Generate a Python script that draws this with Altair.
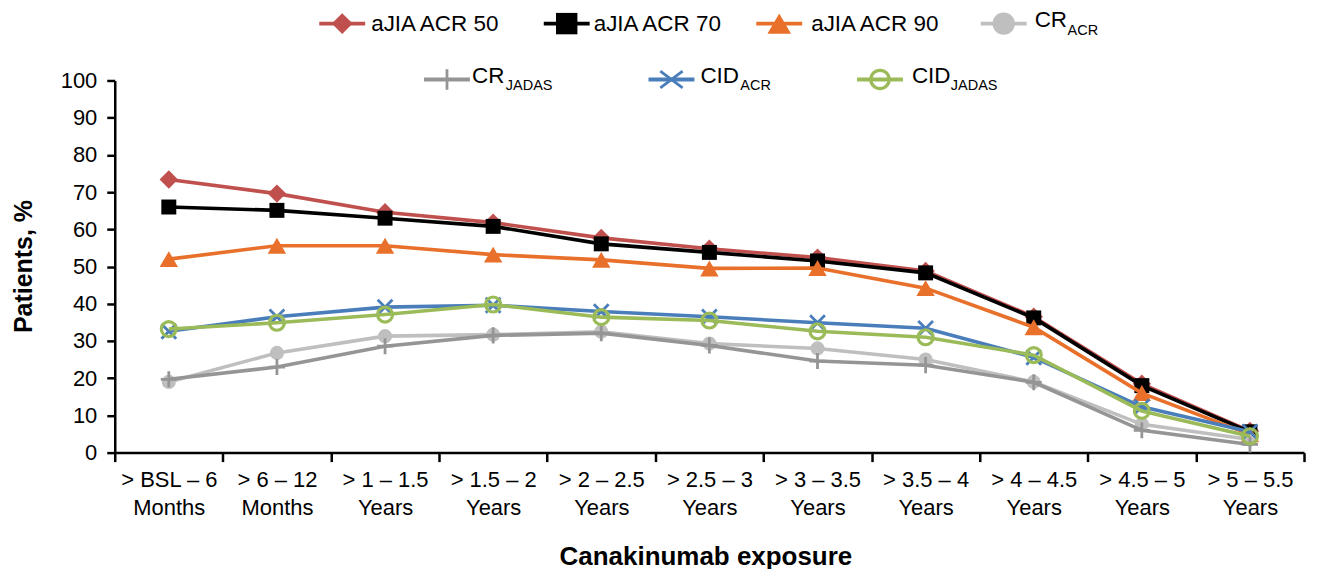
import altair as alt
import pandas as pd

# ---------------- data ----------------
categories = [
    "> BSL – 6\nMonths", "> 6 – 12\nMonths", "> 1 – 1.5\nYears", "> 1.5 – 2\nYears",
    "> 2 – 2.5\nYears", "> 2.5 – 3\nYears", "> 3 – 3.5\nYears", "> 3.5 – 4\nYears",
    "> 4 – 4.5\nYears", "> 4.5 – 5\nYears", "> 5 – 5.5\nYears",
]
acr50 = [73.4, 69.6, 64.6, 61.8, 57.7, 54.8, 52.4, 48.8, 36.5, 18.5, 5.8]
acr70 = [66.0, 65.1, 63.0, 60.8, 56.1, 53.8, 51.5, 48.3, 36.2, 18.0, 5.6]
acr90 = [52.0, 55.6, 55.6, 53.2, 51.8, 49.5, 49.6, 44.2, 33.7, 16.0, 4.9]
cr_acr = [19.0, 26.8, 31.3, 31.7, 32.5, 29.3, 28.0, 25.0, 19.0, 7.6, 3.5]
cr_jadas = [19.7, 23.0, 28.6, 31.5, 32.1, 28.8, 24.6, 23.5, 18.9, 6.0, 2.2]
cid_acr = [32.6, 36.5, 39.1, 39.6, 37.9, 36.5, 34.9, 33.4, 25.6, 12.3, 5.6]
cid_jadas = [33.2, 34.9, 37.1, 39.8, 36.4, 35.5, 32.6, 31.0, 26.2, 11.2, 4.4]

series_names = ["aJIA ACR 50", "aJIA ACR 70", "aJIA ACR 90", "CR", "CR", "CID", "CID"]
series_subs = ["", "", "", "ACR", "JADAS", "ACR", "JADAS"]
series_values = [acr50, acr70, acr90, cr_acr, cr_jadas, cid_acr, cid_jadas]

# ---------------- styles ----------------
PLUS = "M-1,0L1,0M0,-1L0,1"
XMARK = "M-1,-1L1,1M-1,1L1,-1"
XMARK_LEG = "M-1,-0.75L1,0.75M-1,0.75L1,-0.75"
styles = [
    dict(color="#C0504D", shape="diamond", filled=True, size=340, lsize=440, sw=0),
    dict(color="#000000", shape="square", filled=True, size=225, lsize=460, sw=0),
    dict(color="#E8702A", shape="triangle-up", filled=True, size=340, lsize=560, sw=0),
    dict(color="#BFBFBF", shape="circle", filled=True, size=200, lsize=500, sw=0),
    dict(color="#959595", shape=PLUS, filled=False, size=260, lsize=420, sw=2.8),
    dict(color="#4A7EBB", shape=XMARK, filled=False, size=220, lsize=500, sw=2.8),
    dict(color="#9BBB59", shape="circle", filled=False, size=225, lsize=340, sw=3.2),
]

# legend layout (pixels relative to plot origin)
leg_x = [228, 453, 666, 891, 333, 558, 767]
leg_row = [0, 0, 0, 0, 1, 1, 1]
leg_text_x = [257, 480, 698, 922, 358, 587, 799]
leg_sub_x = [0, 0, 0, 955, 392, 627, 838]
row_marker_y = [-57, -1]

W, H = 1192, 373
FONT = "Liberation Sans"

x_enc = alt.X(
    "cat:N", sort=categories, bandPosition=0.5,
    scale=alt.Scale(type="band", paddingInner=0, paddingOuter=0),
    axis=alt.Axis(
        title="Canakinumab exposure", titleFontSize=26, titleFontWeight="bold",
        titleColor="black", titleFont=FONT, titleX=592, titleY=112,
        titleBaseline="alphabetic", titleAlign="center",
        labelExpr="split(datum.label, '\\n')", labelAngle=0, labelOverlap=False,
        labelFontSize=22, labelFont=FONT, labelColor="black", labelLineHeight=28,
        labelPadding=8, tickBand="extent", tickSize=9, tickWidth=2.5,
        tickColor="black", domainColor="black", domainWidth=2.5, grid=False,
    ),
)
y_enc = alt.Y(
    "value:Q", scale=alt.Scale(domain=[0, 100], nice=False, zero=True),
    axis=alt.Axis(
        values=list(range(0, 101, 10)), title="Patients, %", titleFontSize=25,
        titleFontWeight="bold", titleColor="black", titleFont=FONT,
        titleX=-91, titleY=186, titleAngle=270, titleBaseline="middle", titleAlign="center",
        labelFontSize=22, labelFont=FONT, labelColor="black", labelPadding=10,
        tickSize=8, tickWidth=2.5, tickColor="black", domainColor="black",
        domainWidth=2.5, grid=False,
    ),
)

layers = []
for vals, st in zip(series_values, styles):
    df = pd.DataFrame({"cat": categories, "value": vals})
    base = alt.Chart(df).encode(x=x_enc, y=y_enc)
    layers.append(base.mark_line(color=st["color"], strokeWidth=3.6))
    kw = dict(shape=st["shape"], size=st["size"], color=st["color"], opacity=1)
    if st["filled"]:
        kw.update(filled=True)
    else:
        kw.update(filled=False, strokeWidth=st["sw"])
    layers.append(base.mark_point(**kw))

# ---------------- legend ----------------
for i, st in enumerate(styles):
    my = row_marker_y[leg_row[i]]
    ldf = pd.DataFrame({
        "lx": [leg_x[i]], "lx1": [leg_x[i] - 23], "lx2": [leg_x[i] + 23], "ly": [my],
        "name": [series_names[i]], "sub": [series_subs[i]],
        "tx": [leg_text_x[i]], "sx": [leg_sub_x[i]],
        "ty": [my + (7.5 if series_subs[i] == "" else 3.5)],
        "sy": [my + 11],
    })
    lb = alt.Chart(ldf)
    layers.append(lb.mark_rule(color=st["color"], strokeWidth=3.8).encode(
        x=alt.X("lx1:Q", scale=None, axis=None), x2="lx2:Q",
        y=alt.Y("ly:Q", scale=None, axis=None)))
    shape = XMARK_LEG if st["shape"] == XMARK else st["shape"]
    kw = dict(shape=shape, size=st["lsize"], color=st["color"], opacity=1)
    if st["filled"]:
        kw.update(filled=True)
    else:
        kw.update(filled=False, strokeWidth=st["sw"])
    layers.append(lb.mark_point(**kw).encode(
        x=alt.X("lx:Q", scale=None, axis=None), y=alt.Y("ly:Q", scale=None, axis=None)))
    fs = 22.5
    layers.append(lb.mark_text(align="left", baseline="alphabetic", fontSize=fs,
                               font=FONT, color="black").encode(
        x=alt.X("tx:Q", scale=None, axis=None), y=alt.Y("ty:Q", scale=None, axis=None),
        text="name:N"))
    if series_subs[i]:
        layers.append(lb.mark_text(align="left", baseline="alphabetic", fontSize=14.5,
                                   font=FONT, color="black").encode(
            x=alt.X("sx:Q", scale=None, axis=None), y=alt.Y("sy:Q", scale=None, axis=None),
            text="sub:N"))

chart = alt.layer(*layers).properties(
    width=W, height=H,
    autosize=alt.AutoSizeParams(type="none"),
    padding={"left": 107, "top": 72, "right": 5, "bottom": 116},
).configure(
    font=FONT,
    view=alt.ViewConfig(stroke="transparent", strokeWidth=0),
)

chart.save("out.html", embed_options={"renderer": "svg", "actions": False})
